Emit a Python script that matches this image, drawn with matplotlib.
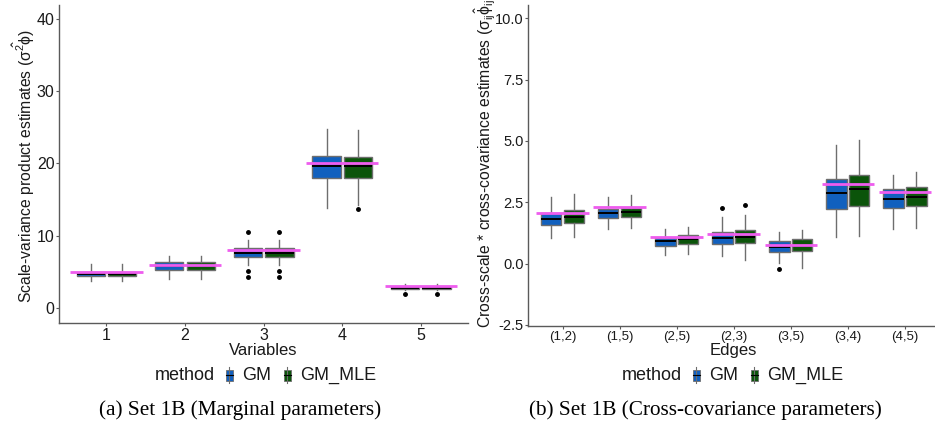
import matplotlib.pyplot as plt
from matplotlib.patches import Rectangle
from matplotlib.lines import Line2D

plt.rcParams['font.family'] = ['Liberation Sans', 'DejaVu Sans']
plt.rcParams['mathtext.default'] = 'regular'

# ---- panel (a): marginal parameters ----
left_cats = ['1', '2', '3', '4', '5']
left_truth = [5, 6, 8, 20, 3]
gm_a = dict(lo=[3.7, 4.0, 5.9, 13.8, 2.55],
            q1=[4.38, 5.25, 7.1, 18.0, 2.63],
            med=[4.7, 5.76, 7.6, 19.7, 2.72],
            q3=[4.93, 6.36, 8.29, 21.0, 2.9],
            hi=[6.08, 7.14, 9.45, 24.75, 3.36],
            out=[[], [], [10.5, 5.07, 4.33], [], [1.94]])
mle_a = dict(lo=[3.7, 4.0, 5.9, 14.3, 2.55],
             q1=[4.38, 5.25, 7.1, 18.0, 2.63],
             med=[4.7, 5.76, 7.6, 19.65, 2.72],
             q3=[4.93, 6.36, 8.29, 20.95, 2.9],
             hi=[6.08, 7.14, 9.45, 24.7, 3.36],
             out=[[], [], [10.5, 5.07, 4.33], [13.7], [1.94]])

# ---- panel (b): cross-covariance parameters ----
right_cats = ['(1,2)', '(1,5)', '(2,5)', '(2,3)', '(3,5)', '(3,4)', '(4,5)']
right_truth = [2.08, 2.3, 1.08, 1.2, 0.75, 3.25, 2.93]
gm_b = dict(lo=[1.06, 1.4, 0.35, 0.29, 0.04, 1.09, 1.42],
            q1=[1.56, 1.84, 0.72, 0.78, 0.45, 2.24, 2.26],
            med=[1.81, 2.05, 0.93, 1.04, 0.68, 2.89, 2.62],
            q3=[2.05, 2.24, 1.04, 1.27, 0.9, 3.44, 3.03],
            hi=[2.73, 2.73, 1.4, 1.88, 1.27, 4.84, 3.6],
            out=[[], [], [], [2.28], [-0.22], [], []])
mle_b = dict(lo=[1.09, 1.46, 0.38, 0.15, -0.2, 1.13, 1.46],
             q1=[1.64, 1.88, 0.78, 0.83, 0.5, 2.33, 2.36],
             med=[1.91, 2.09, 1.0, 1.08, 0.71, 3.03, 2.7],
             q3=[2.18, 2.28, 1.15, 1.35, 1.0, 3.63, 3.12],
             hi=[2.82, 2.8, 1.47, 2.0, 1.36, 5.05, 3.72],
             out=[[], [], [], [2.37], [], [], []])

methods = ['GM', 'GM_MLE']
fills = ['#1160BE', '#0B540A']
pink = '#EE5CEE'
edge = '#6E6E6E'
axcol = '#5A5A5A'
txtcol = '#1a1a1a'


def stats(d):
    return [dict(whislo=d['lo'][i], q1=d['q1'][i], med=d['med'][i],
                 q3=d['q3'][i], whishi=d['hi'][i], fliers=d['out'][i])
            for i in range(len(d['med']))]


def panel(ax, cats, truth, series, ylim, yticks, yticklabels, tick_fs, xtick_fs, xlabel):
    n = len(cats)
    xs = list(range(1, n + 1))
    for k, (d, col) in enumerate(zip(series, fills)):
        pos = [x + (k - 0.5) * 0.4 for x in xs]
        ax.bxp(stats(d), positions=pos, widths=0.36, patch_artist=True,
               showcaps=False,
               boxprops=dict(facecolor=col, edgecolor=edge, linewidth=1.0),
               medianprops=dict(color='black', linewidth=1.4),
               whiskerprops=dict(color=edge, linewidth=1.0),
               flierprops=dict(marker='o', markersize=2.5, markerfacecolor='black',
                               markeredgecolor='black'),
               manage_ticks=False)
    ax.hlines(truth, [x - 0.46 for x in xs], [x + 0.46 for x in xs],
              color=pink, linewidth=2, zorder=5)
    ax.set_xlim(0.4, n + 0.6)
    ax.set_ylim(*ylim)
    ax.set_xticks(xs)
    ax.set_xticklabels(cats, fontsize=xtick_fs)
    ax.set_yticks(yticks)
    ax.set_yticklabels(yticklabels, fontsize=tick_fs)
    for s in ['top', 'right']:
        ax.spines[s].set_visible(False)
    for s in ['left', 'bottom']:
        ax.spines[s].set_color(axcol)
        ax.spines[s].set_linewidth(1.0)
    ax.tick_params(colors=axcol, labelcolor=txtcol, length=2.5, pad=1)
    ax.set_xlabel(xlabel, fontsize=12, labelpad=0, color=txtcol)


fig = plt.figure(figsize=(9.35, 4.33), dpi=100)
W, H = 935.0, 433.0

ax1 = fig.add_axes([59.3 / W, 1 - 323 / H, (468 - 59.3) / W, 318 / H])
panel(ax1, left_cats, left_truth, [gm_a, mle_a], (-2.08, 41.94),
      [0, 10, 20, 30, 40], ['0', '10', '20', '30', '40'], 11.5, 11.5, 'Variables')

ax2 = fig.add_axes([528.3 / W, 1 - 326 / H, 410.8 / W, 321 / H])
panel(ax2, right_cats, right_truth, [gm_b, mle_b], (-2.55, 10.55),
      [-2.5, 0, 2.5, 5, 7.5, 10], ['-2.5', '0.0', '2.5', '5.0', '7.5', '10.0'],
      10.5, 9.5, 'Edges')

fig.text(24 / W, 1 - 303 / H, r'Scale-variance product estimates ($\hat{\sigma^2\phi}$)',
         rotation=90, ha='center', va='bottom', fontsize=11.3, color=txtcol)
fig.text(485 / W, 1 - 328 / H,
         r'Cross-scale * cross-covariance estimates ($\hat{\sigma_{ij}\phi_{ij}}$)',
         rotation=90, ha='center', va='bottom', fontsize=11.3, color=txtcol)


def legend(x0):
    y = 1 - 375 / H
    fig.text(x0 / W, y, 'method', ha='left', va='center', fontsize=13, color=txtcol)
    xs = [x0 + 74, x0 + 132]
    txs = [x0 + 87, x0 + 145]
    for xi, tx, col, lab in zip(xs, txs, fills, methods):
        fig.add_artist(Line2D([xi / W, xi / W], [y - 8 / H, y + 8 / H],
                              color=edge, linewidth=0.8, transform=fig.transFigure))
        fig.add_artist(Rectangle(((xi - 3.5) / W, y - 5.5 / H), 7 / W, 11 / H,
                                 facecolor=col, edgecolor=edge, linewidth=0.6,
                                 transform=fig.transFigure))
        fig.add_artist(Line2D([(xi - 3.5) / W, (xi + 3.5) / W], [y, y],
                              color='black', linewidth=0.8, transform=fig.transFigure))
        fig.text(tx / W, y, lab, ha='left', va='center', fontsize=13, color=txtcol)


legend(155)
legend(622)

fig.text(240 / W, 1 - 410 / H, '(a) Set 1B (Marginal parameters)', ha='center', va='center',
         fontsize=15.3, family=['Liberation Serif'])
fig.text(705 / W, 1 - 410 / H, '(b) Set 1B (Cross-covariance parameters)', ha='center',
         va='center', fontsize=15.3, family=['Liberation Serif'])

fig.savefig('out.png', dpi=100)
